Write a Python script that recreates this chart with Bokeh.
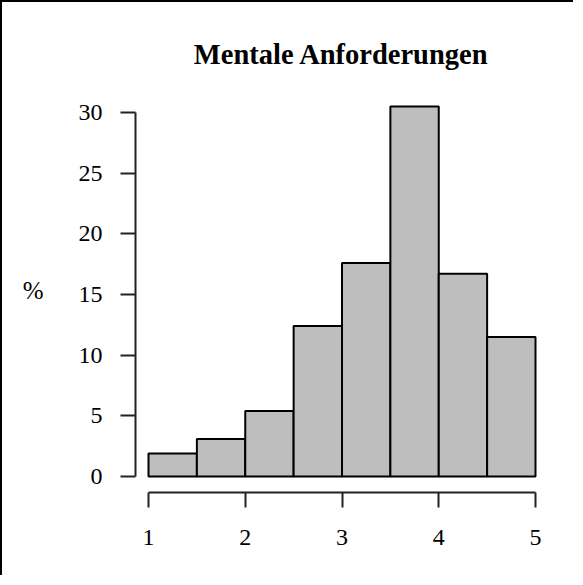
from bokeh.plotting import figure
from bokeh.models import ColumnDataSource, FixedTicker, Range1d
from bokeh.embed import file_html
from bokeh.resources import INLINE

# Data
bin_left = [1.0, 1.5, 2.0, 2.5, 3.0, 3.5, 4.0, 4.5]
bin_right = [1.5, 2.0, 2.5, 3.0, 3.5, 4.0, 4.5, 5.0]
percent = [1.9, 3.1, 5.4, 12.4, 17.6, 30.5, 16.7, 11.5]
x_ticks = [1, 2, 3, 4, 5]
y_ticks = [0, 5, 10, 15, 20, 25, 30]
title_text = "Mentale Anforderungen"
y_label = "%"

FONT = "Liberation Serif"

p = figure(
    width=573, height=575,
    output_backend="svg", toolbar_location=None,
    x_range=Range1d(0.8656, 5.124), y_range=Range1d(-1.319, 32.06),
    min_border_left=133, min_border_right=28, min_border_top=85, min_border_bottom=85,
    title=title_text,
    styles={"border-left": "2px solid black", "border-top": "2px solid black"},
)
p.outline_line_color = None
p.background_fill_color = "white"
p.border_fill_color = "white"
p.grid.visible = False

p.title.align = "center"
p.title.vertical_align = "top"
p.title.text_font = FONT
p.title.text_font_size = "28.5px"
p.title.text_font_style = "bold"
p.title.text_color = "black"
p.title.standoff = 32

src = ColumnDataSource(dict(left=bin_left, right=bin_right, top=percent,
                            bottom=[0] * len(percent)))
p.quad(left="left", right="right", top="top", bottom="bottom", source=src,
       fill_color="#bebebe", line_color="black", line_width=2)

for ax in (p.xaxis[0], p.yaxis[0]):
    ax.major_tick_out = 15
    ax.major_tick_in = 0
    ax.minor_tick_line_color = None
    ax.axis_line_color = "#222222"
    ax.axis_line_width = 2
    ax.major_tick_line_color = "#222222"
    ax.major_tick_line_width = 2
    ax.major_label_text_font = FONT
    ax.major_label_text_font_size = "24px"
    ax.major_label_text_color = "black"

p.xaxis.ticker = FixedTicker(ticks=x_ticks)
p.xaxis.bounds = (1, 5)
p.xaxis.major_label_standoff = 22

p.yaxis.ticker = FixedTicker(ticks=y_ticks)
p.yaxis.bounds = (0, 30)
p.yaxis.major_label_standoff = 18
p.yaxis.axis_label = y_label
p.yaxis.axis_label_orientation = "horizontal"
p.yaxis.axis_label_text_font = FONT
p.yaxis.axis_label_text_font_size = "25px"
p.yaxis.axis_label_text_font_style = "normal"
p.yaxis.axis_label_text_color = "black"
p.yaxis.axis_label_standoff = 32

open("out.html", "w").write(file_html(p, INLINE))
